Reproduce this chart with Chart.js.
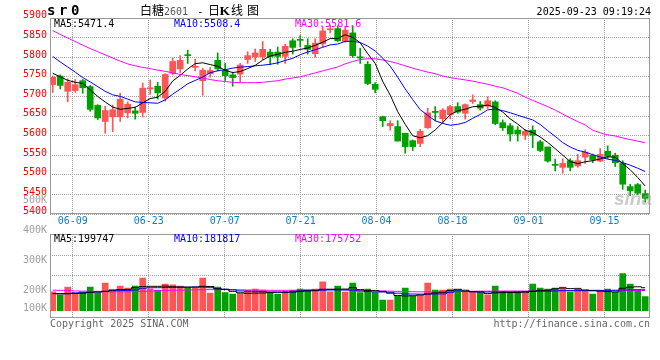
<!DOCTYPE html>
<html><head><meta charset="utf-8">
<script src="https://cdn.jsdelivr.net/npm/chart.js@4/dist/chart.umd.min.js"></script>
<style>
html,body{margin:0;padding:0;background:#fff;}
#wrap{position:relative;width:660px;height:360px;overflow:hidden;background:#fff;}
canvas{position:absolute;left:0;}
#cPrice{top:0;}
#cVol{top:195px;}
.t{position:absolute;font-family:"DejaVu Sans Mono",monospace;font-size:10px;line-height:10px;white-space:pre;color:#000;}
.c{position:absolute;font-family:"Noto Sans CJK SC",sans-serif;font-size:12px;line-height:12px;white-space:pre;color:#000;}
</style></head><body>
<div id="wrap">
<canvas id="cPrice" width="660" height="232"></canvas>
<canvas id="cVol" width="660" height="165"></canvas>

<div class="t" style="left:47px;top:3.4px;font-size:14px;line-height:14px;font-weight:bold;letter-spacing:-2.4px">s r 0</div>
<div class="c" style="left:140px;top:4px">白糖</div>
<div class="t" style="left:164px;top:6.5px;color:#555">2601</div>
<div class="t" style="left:197px;top:6.5px;font-size:11px">-</div>
<div class="c" style="left:208px;top:4px">日</div>
<div class="c" style="left:219.5px;top:3.5px;font-family:'Liberation Serif',serif;font-weight:bold;font-size:13.5px;line-height:13.5px">K</div>
<div class="c" style="left:231px;top:4px">线</div>
<div class="c" style="left:247px;top:4px">图</div>
<div class="t" style="right:9px;top:6.5px">2025-09-23 09:19:24</div>

<div class="t" style="left:54px;top:18.5px;color:#000">MA5:5471.4</div>
<div class="t" style="left:174px;top:18.5px;color:#0000ff">MA10:5508.4</div>
<div class="t" style="left:295px;top:18.5px;color:#ff00ff">MA30:5581.6</div>

<div class="t" style="left:54px;top:233.5px;color:#000">MA5:199747</div>
<div class="t" style="left:174px;top:233.5px;color:#0000ff">MA10:181817</div>
<div class="t" style="left:295px;top:233.5px;color:#ff00ff">MA30:175752</div>

<div class="t" style="left:50px;top:318.5px;color:#666">Copyright 2025 SINA.COM</div>
<div class="t" style="right:10px;top:318.5px;color:#666">http://finance.sina.com.cn</div>
<div style="position:absolute;left:614px;top:189px;font-family:'Liberation Sans',sans-serif;font-style:italic;font-weight:bold;font-size:19px;line-height:19px;color:rgba(160,160,160,0.55)">sina</div>
</div>
<script>
// ---------------- data ----------------
const dates = ['06-04','06-05','06-06','06-09','06-10','06-11','06-12','06-13','06-16','06-17',
  '06-18','06-19','06-20','06-23','06-24','06-25','06-26','06-27','06-30','07-01',
  '07-02','07-03','07-04','07-07','07-08','07-09','07-10','07-11','07-14','07-15',
  '07-16','07-17','07-18','07-21','07-22','07-23','07-24','07-25','07-28','07-29',
  '07-30','07-31','08-01','08-04','08-05','08-06','08-07','08-08','08-11','08-12',
  '08-13','08-14','08-15','08-18','08-19','08-20','08-21','08-22','08-25','08-26',
  '08-27','08-28','08-29','09-01','09-02','09-03','09-04','09-05','09-08','09-09',
  '09-10','09-11','09-12','09-15','09-16','09-17','09-18','09-19','09-22','09-23'];
const tickDates = ['06-09','06-23','07-07','07-21','08-04','08-18','09-01','09-15'];

const open = [5730,5752,5713,5715,5740,5725,5677,5636,5648,5648,
 5658,5663,5659,5719,5726,5696,5759,5770,5806,5774,
 5740,5758,5792,5767,5755,5757,5794,5801,5801,5813,
 5813,5802,5842,5844,5830,5809,5834,5870,5873,5840,
 5862,5801,5782,5731,5648,5625,5623,5606,5587,5580,
 5620,5662,5643,5653,5674,5657,5687,5679,5675,5686,
 5633,5625,5614,5601,5614,5584,5571,5527,5519,5536,
 5523,5545,5550,5535,5560,5550,5529,5470,5475,5452];
const high = [5752,5755,5745,5743,5743,5728,5679,5675,5678,5708,
 5686,5673,5734,5742,5736,5758,5798,5804,5818,5795,
 5772,5774,5811,5784,5762,5784,5814,5821,5840,5820,
 5826,5833,5847,5855,5847,5847,5877,5882,5880,5877,
 5880,5823,5789,5735,5650,5638,5638,5606,5589,5616,
 5670,5674,5669,5677,5684,5681,5704,5687,5699,5689,
 5640,5631,5623,5616,5625,5588,5571,5540,5541,5541,
 5552,5564,5553,5567,5574,5555,5536,5476,5478,5461];
const low = [5710,5719,5686,5710,5708,5662,5641,5606,5610,5636,
 5645,5642,5647,5705,5693,5688,5755,5760,5784,5765,
 5703,5749,5765,5741,5726,5737,5784,5789,5794,5781,
 5782,5784,5808,5826,5808,5800,5826,5862,5840,5838,
 5799,5784,5730,5709,5623,5614,5586,5555,5562,5572,
 5618,5638,5633,5643,5657,5642,5682,5665,5669,5628,
 5613,5586,5586,5590,5569,5559,5532,5510,5504,5510,
 5519,5529,5531,5533,5541,5521,5463,5447,5450,5430];
const close = [5749,5728,5736,5730,5722,5667,5645,5664,5666,5693,
 5680,5657,5721,5722,5709,5756,5789,5792,5804,5777,
 5767,5766,5770,5753,5748,5780,5804,5811,5820,5801,
 5802,5828,5825,5843,5820,5836,5867,5872,5842,5869,
 5804,5798,5733,5718,5638,5631,5586,5572,5572,5611,
 5658,5659,5665,5674,5660,5679,5691,5670,5689,5631,
 5620,5604,5604,5611,5601,5562,5535,5524,5529,5519,
 5536,5558,5538,5552,5547,5531,5476,5459,5453,5440];

const ma5 = [5759,5750,5741,5736,5733,5716.6,5700,5685.6,5672.8,5667,
 5669.6,5672,5683.4,5694.6,5697.8,5713,5739.4,5753.6,5770,5783.6,
 5785.8,5781.2,5776.8,5766.6,5760.8,5763.4,5771,5779.2,5792.5,5803.1,
 5807.6,5812.4,5815.1,5819.8,5823.5,5830.3,5838.1,5847.5,5847.4,5857.3,
 5850.8,5836.9,5809.1,5784.3,5738.1,5703.5,5661.1,5628.9,5599.7,5594.3,
 5599.8,5614.4,5633,5653.3,5663.1,5667.2,5673.7,5674.7,5677.8,5672,
 5660.1,5642.8,5629.5,5613.9,5607.9,5596.4,5582.6,5566.6,5550.2,5533.8,
 5528.6,5533.2,5536,5540.5,5546,5545,5528.7,5512.9,5493.1,5471.4];
const ma10 = [5802,5788,5775,5762,5748,5737,5725,5713,5704,5700,
 5693.1,5686,5684.5,5683.7,5682.4,5691.3,5705.7,5718.5,5732.3,5740.7,
 5749.4,5760.3,5765.2,5768.3,5772.2,5774.6,5776.1,5778,5779.6,5782,
 5785.5,5791.7,5797.2,5806.2,5813.3,5819,5825.3,5831.3,5833.6,5840.4,
 5840.6,5837.5,5828.3,5815.9,5797.7,5777.2,5749,5719,5692,5666.2,
 5651.7,5637.8,5631,5626.5,5628.7,5633.5,5644.1,5653.9,5665.6,5667.6,
 5663.7,5658.3,5652.1,5645.9,5640,5628.3,5612.7,5598.1,5582.1,5570.9,
 5562.5,5557.9,5551.3,5545.4,5539.9,5536.8,5531,5524.5,5516.8,5508.4];
const ma30 = [5868,5858,5849,5840,5831,5822,5814,5806,5798,5790,
 5783,5778,5774,5771,5767,5764,5760,5756,5753,5750,
 5747,5743,5740,5738,5736,5735,5735,5735,5736,5738,
 5740,5744,5747,5750,5755,5760,5765,5770,5775,5783,
 5789,5794,5796,5796,5793,5789,5784,5778,5772,5767,
 5762,5758,5752,5748,5745,5742,5739,5735,5731,5726,
 5722,5715,5708,5698,5690,5682,5674,5665,5655,5645,
 5636,5627,5614,5607,5602,5599,5594,5590,5586,5581.6];

const volume = [165000,134000,206000,151000,157000,206000,151000,241000,180000,215000,
 197000,215000,284000,191000,180000,232000,224000,215000,197000,197000,
 284000,154000,206000,157000,145000,151000,177000,189000,180000,157000,
 145000,169000,177000,189000,171000,189000,250000,165000,215000,162000,
 241000,157000,189000,157000,93000,93000,128000,197000,128000,134000,
 241000,180000,180000,189000,180000,169000,169000,157000,137000,215000,
 169000,157000,157000,157000,232000,197000,189000,197000,206000,162000,
 197000,169000,145000,169000,189000,162000,322000,232000,180000,122000];
const volMa5 = [148000,145000,147000,150000,152000,160000,162000,168000,180000,184000,
 185000,200000,210000,212000,212000,214000,208000,206000,205000,206000,
 212000,210000,190000,186000,168000,156000,151000,153000,154000,160000,
 162000,160000,163000,170000,172000,174000,186000,186000,187000,188000,
 200000,183000,176000,174000,166000,152000,132000,128000,130000,137000,
 145000,155000,160000,176000,186000,178000,166000,163000,150000,155000,
 157000,158000,158000,160000,170000,177000,178000,190000,198000,192000,
 190000,180000,174000,170000,166000,163000,195000,205000,208000,199747];
const volMa10 = [150000,149000,150000,155000,160000,160000,162000,168000,174000,175000,
 176000,180000,195000,200000,200000,202000,203000,204000,204000,205000,
 205000,200000,190000,186000,182000,172000,169000,168000,166000,162000,
 160000,160000,162000,170000,175000,177000,178000,180000,180000,180000,
 179000,170000,166000,163000,163000,160000,152000,146000,145000,144000,
 145000,145000,146000,160000,172000,168000,164000,163000,163000,163000,
 163000,164000,165000,167000,168000,169000,170000,172000,174000,175000,
 175000,176000,177000,177000,177000,178000,180000,181000,182000,181817];
const volMa30 = [178000,177000,176000,172000,170000,169000,168000,166000,165000,164000,
 164000,165000,168000,171000,174000,175000,177000,178000,180000,181000,
 182000,183000,183000,183000,182000,181000,180000,179000,178000,177000,
 177000,177000,178000,180000,182000,184000,186000,186000,185000,182000,
 178000,175000,174000,173000,172000,170000,168000,166000,165000,164000,
 164000,164000,164000,165000,166000,168000,169000,170000,170000,171000,
 171000,171000,171000,171000,172000,172000,172000,172000,173000,173000,
 173000,173000,173000,174000,174000,174000,175000,175000,176000,175752];

const priceMin = 5400, priceMax = 5900, priceStep = 50;
const volTickValues = [500000, 400000, 300000, 200000, 100000];

// ---------------- styling ----------------
const UP = '#ff5555', DOWN = '#00a000';
const GRID = '#a0a0a0', FRAME = '#999999';
const MONO = 'DejaVu Sans Mono';
const candleColor = close.map((c, i) => c >= open[i] ? UP : DOWN);
const pts = arr => arr.map((v, i) => ({x: i, y: v}));
const tickIdx = tickDates.map(d => dates.indexOf(d));

const framePlugin = {
  id: 'frame',
  afterDraw(chart) {
    const a = chart.chartArea, c = chart.ctx;
    c.save();
    c.strokeStyle = FRAME; c.lineWidth = 1; c.setLineDash([]);
    c.strokeRect(Math.round(a.left) + 0.5, Math.round(a.top) + 0.5,
                 Math.round(a.right - a.left) - 1, Math.round(a.bottom - a.top) - 1);
    c.restore();
  }
};

function xLinear() {
  return {type: 'linear', display: false, min: -0.36, max: dates.length - 1 + 0.64,
          offset: false, grid: {offset: false}};
}
function xDates(showLabels) {
  return {
    type: 'category', labels: dates, position: 'bottom', offset: false,
    min: 0, max: dates.length - 1,
    grid: {display: true, offset: false, color: GRID, lineWidth: 1, drawTicks: false},
    border: {display: false, dash: [1, 1]},
    ticks: {display: showLabels, autoSkip: false, maxRotation: 0, minRotation: 0, padding: 1,
            color: '#0a80d2', font: {family: MONO, size: 10}},
    afterBuildTicks(s) { s.ticks = tickIdx.map(v => ({value: v})); },
    afterFit(s) { s.height = showLabels ? 18 : 0; }
  };
}
function line(data, color, stepped) {
  return {type: 'line', data: pts(data), borderColor: color, borderWidth: 1, pointRadius: 0,
          tension: 0, stepped: stepped || false, xAxisID: 'x', yAxisID: 'y'};
}

Chart.defaults.font.family = MONO;

// ---------------- price chart ----------------
new Chart(document.getElementById('cPrice'), {
  type: 'bar',
  data: {datasets: [
    line(ma5, '#000000'),
    line(ma10, '#0000ff'),
    line(ma30, '#ff00ff'),
    {type: 'bar', data: open.map((o, i) => ({x: i, y: [o, close[i]]})), backgroundColor: candleColor,
     barThickness: 6, minBarLength: 1, grouped: false, xAxisID: 'x', yAxisID: 'y'},
    {type: 'bar', data: low.map((l, i) => ({x: i, y: [l, high[i]]})), backgroundColor: candleColor,
     barThickness: 1, grouped: false, xAxisID: 'x', yAxisID: 'y'}
  ]},
  options: {
    responsive: false, animation: false, devicePixelRatio: 1, events: [],
    layout: {padding: {top: 18, right: 10, left: 0, bottom: 0}},
    plugins: {legend: {display: false}, tooltip: {enabled: false}},
    scales: {
      x: xLinear(),
      xd: xDates(true),
      y: {
        type: 'linear', position: 'left', min: priceMin, max: priceMax,
        grid: {color: GRID, lineWidth: 1, drawTicks: false},
        border: {display: false, dash: [1, 1]},
        ticks: {stepSize: priceStep, color: '#ff0000', padding: 3,
                font: {family: MONO, size: 10, lineHeight: 0.45},
                callback: v => [String(v), '']},
        afterFit(s) { s.width = 50; }
      }
    }
  },
  plugins: [framePlugin]
});

// ---------------- volume chart ----------------
const volLabelPlugin = {
  id: 'volLabels',
  afterDraw(chart) {
    const s = chart.scales.yl, a = chart.chartArea, c = chart.ctx;
    c.save();
    c.font = '10px "' + MONO + '"';
    c.fillStyle = '#a0a0a0'; c.textAlign = 'right'; c.textBaseline = 'middle';
    volTickValues.forEach(v => {
      const y = Math.min(s.getPixelForValue(v), a.bottom - 9);
      c.fillText(Math.round(v / 1000) + 'K', 47, y);
    });
    c.restore();
  }
};

new Chart(document.getElementById('cVol'), {
  type: 'bar',
  data: {datasets: [
    line(volMa5, '#000000', 'middle'),
    line(volMa10, '#0000ff', 'middle'),
    line(volMa30, '#ff00ff', 'middle'),
    {type: 'bar', data: pts(volume), backgroundColor: candleColor, barThickness: 6,
     grouped: false, xAxisID: 'x', yAxisID: 'y'}
  ]},
  options: {
    responsive: false, animation: false, devicePixelRatio: 1, events: [],
    layout: {padding: {top: 39, right: 10, left: 50, bottom: 42.3}},
    plugins: {legend: {display: false}, tooltip: {enabled: false}},
    scales: {
      x: xLinear(),
      xd: xDates(false),
      y: {type: 'linear', display: false, min: -61000, max: 667000},
      yl: {type: 'linear', display: false, min: 106960, max: 388100},
      yg: {
        type: 'linear', position: 'left', min: -0.163, max: 4.107,
        grid: {color: GRID, lineWidth: 1, drawTicks: false},
        border: {display: false, dash: [1, 1]},
        ticks: {display: false},
        afterBuildTicks(s) { s.ticks = [{value: 2}, {value: 3}]; },
        afterFit(s) { s.width = 0; }
      }
    }
  },
  plugins: [framePlugin, volLabelPlugin]
});
</script>
</body></html>
